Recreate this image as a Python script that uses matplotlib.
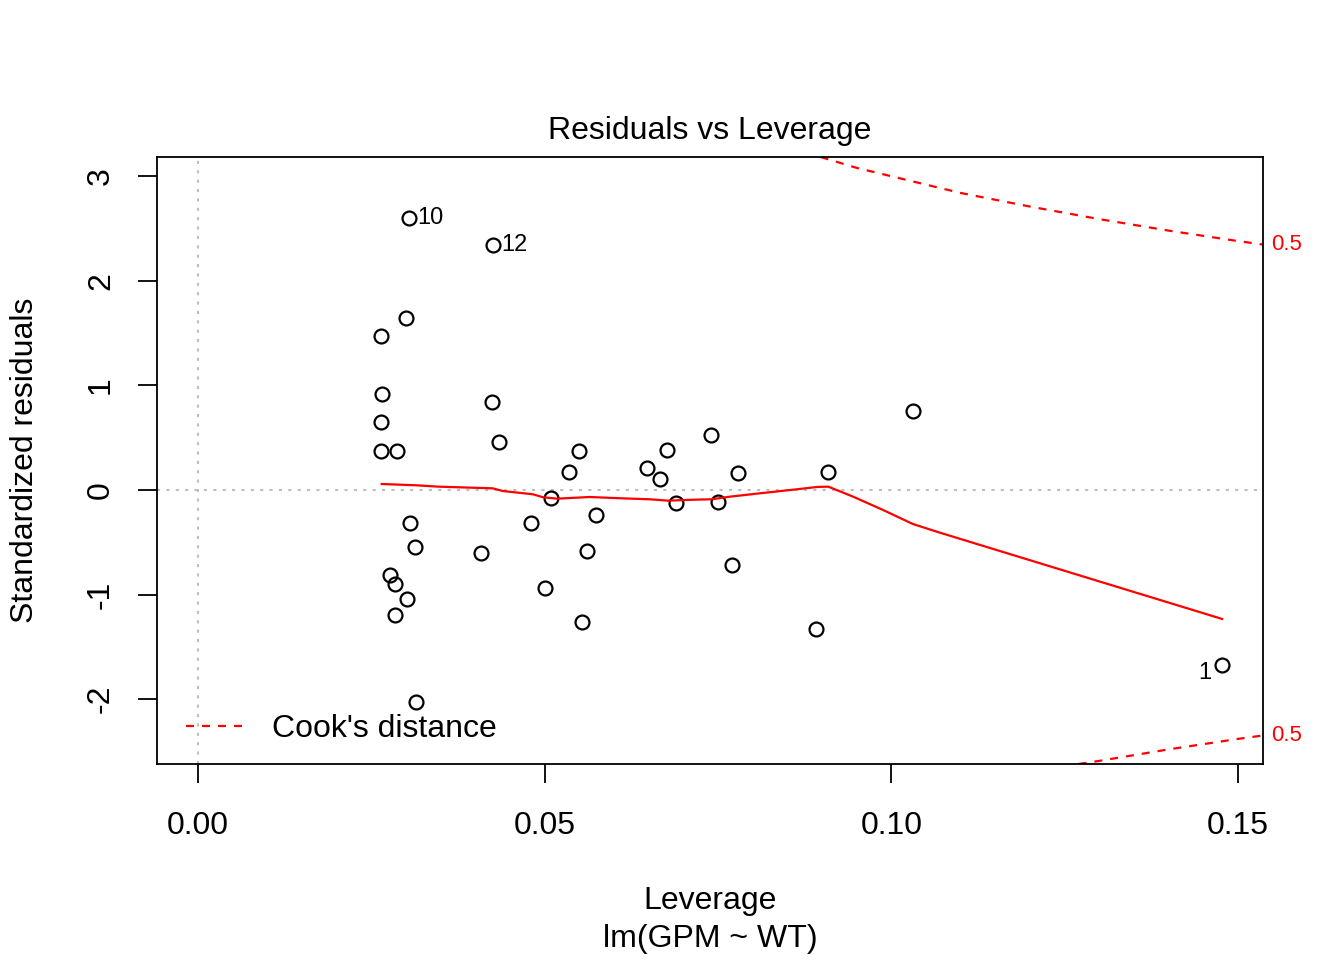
import numpy as np
import matplotlib.pyplot as plt

plt.rcParams['font.family'] = ['Liberation Sans', 'DejaVu Sans']

# leverage and standardized residuals
leverage = [0.0304, 0.0425, 0.0300, 0.0264, 0.0265, 0.0264, 0.0264, 0.0287,
            0.0424, 0.0434, 0.0549, 0.0535, 0.0648, 0.0666, 0.0676, 0.0740,
            0.0779, 0.0909, 0.1031, 0.0509, 0.0689, 0.0750, 0.0574, 0.0480,
            0.0306, 0.0313, 0.0408, 0.0561, 0.0277, 0.0284, 0.0301, 0.0500,
            0.0284, 0.0770, 0.0554, 0.0891, 0.0314, 0.1477]
std_resid = [2.600, 2.342, 1.644, 1.472, 0.918, 0.650, 0.373, 0.373,
             0.841, 0.459, 0.373, 0.172, 0.210, 0.105, 0.382, 0.526,
             0.163, 0.172, 0.755, -0.076, -0.124, -0.115, -0.239, -0.315,
             -0.315, -0.545, -0.602, -0.583, -0.813, -0.899, -1.042, -0.937,
             -1.195, -0.717, -1.262, -1.329, -2.027, -1.673]
point_ids = {0: '10', 1: '12', 37: '1'}

# red smoother
smooth_x = [0.0265, 0.0315, 0.0346, 0.0425, 0.0440, 0.0483, 0.0498, 0.0518,
            0.0565, 0.0609, 0.0652, 0.0678, 0.0714, 0.0741, 0.0767, 0.0810,
            0.0864, 0.0893, 0.0909, 0.0945, 0.0988, 0.1031, 0.1070, 0.1477]
smooth_y = [0.057, 0.045, 0.032, 0.016, -0.010, -0.041, -0.070, -0.083,
            -0.067, -0.079, -0.089, -0.102, -0.093, -0.089, -0.064, -0.032,
            0.007, 0.029, 0.032, -0.064, -0.191, -0.325, -0.408, -1.233]

# Cook's distance 0.5 contour
cook_up_x = [0.0898, 0.095, 0.100, 0.110, 0.120, 0.130, 0.140, 0.150, 0.1536]
cook_up_y = [3.184, 3.08, 3.00, 2.84, 2.71, 2.59, 2.48, 2.38, 2.347]
cook_lo_x = [0.127, 0.130, 0.140, 0.150, 0.1536]
cook_lo_y = [-2.62, -2.59, -2.48, -2.38, -2.347]

dash = (0, (3.6, 3.6))

fig = plt.figure(figsize=(13.44, 9.6), dpi=100)
ax = fig.add_axes([157/1344, 1 - 764/960, (1263 - 157)/1344, (764 - 157)/960])

ax.axhline(0, color='#BEBEBE', ls=(0, (1.5, 3)), lw=1.5)
ax.axvline(0, color='#BEBEBE', ls=(0, (1.5, 3)), lw=1.5)

ax.plot(leverage, std_resid, 'o', mfc='none', mec='black', ms=10, mew=1.6)
ax.plot(smooth_x, smooth_y, color='red', lw=1.6)
ax.plot(cook_up_x, cook_up_y, color='red', lw=1.6, ls=dash)
ax.plot(cook_lo_x, cook_lo_y, color='red', lw=1.6, ls=dash)

for i, lab in point_ids.items():
    if leverage[i] > 0.14:
        ax.annotate(lab, (leverage[i], std_resid[i]), xytext=(-8, -6),
                    textcoords='offset points', ha='right', va='center', fontsize=17)
    else:
        ax.annotate(lab, (leverage[i], std_resid[i]), xytext=(6, 0),
                    textcoords='offset points', ha='left', va='center', fontsize=17)

ax.set_xlim(-0.0059, 0.1536)
ax.set_ylim(-2.62, 3.184)
ax.set_xticks([0.00, 0.05, 0.10, 0.15])
ax.set_xticklabels(['0.00', '0.05', '0.10', '0.15'])
ax.set_yticks([-2, -1, 0, 1, 2, 3])
ax.set_yticklabels(['-2', '-1', '0', '1', '2', '3'], rotation=90, va='center')
ax.tick_params(axis='both', length=13.5, width=1.3, labelsize=23)
ax.tick_params(axis='x', pad=20)
ax.tick_params(axis='y', pad=16)
for s in ax.spines.values():
    s.set_linewidth(1.3)

# red 0.5 labels to the right of the box
ax.text(1.007, (2.347 + 2.62) / (3.184 + 2.62), '0.5', transform=ax.transAxes,
        color='red', fontsize=16, va='center', ha='left')
ax.text(1.007, (-2.347 + 2.62) / (3.184 + 2.62), '0.5', transform=ax.transAxes,
        color='red', fontsize=16, va='center', ha='left')

# legend
ax.plot([], [], color='red', lw=1.6, ls=dash, label="Cook's distance")
ax.legend(loc='lower left', frameon=False, fontsize=23, handlelength=1.8,
          handletextpad=0.9, borderaxespad=0.5, bbox_to_anchor=(0.0, -9/607))

fig.text(710/1344, 1 - 131/960, 'Residuals vs Leverage', ha='center', va='center', fontsize=23)
fig.text(710/1344, 1 - 901/960, 'Leverage', ha='center', va='center', fontsize=23)
fig.text(710/1344, 1 - 939/960, 'lm(GPM ~ WT)', ha='center', va='center', fontsize=23)
fig.text(25/1344, 1 - 460/960, 'Standardized residuals', ha='center', va='center',
         rotation=90, fontsize=23)

fig.savefig('out.png', dpi=100)
